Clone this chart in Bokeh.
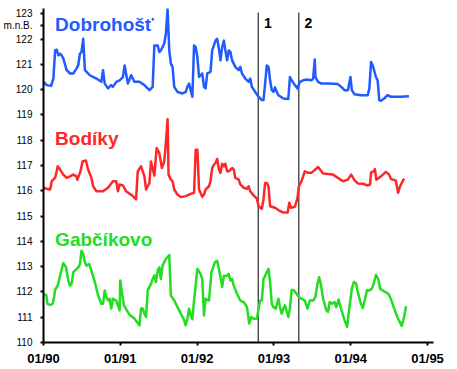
from bokeh.plotting import figure
from bokeh.models import Range1d, FixedTicker
from bokeh.core.properties import value
from bokeh.embed import file_html
from bokeh.resources import INLINE

# ---- data (decimal year, water level in m n.B.) ----
dobrohost_year = [1990.000, 1990.043, 1990.099, 1990.129, 1990.151, 1990.172, 1990.194, 1990.216, 1990.236, 1990.258,
                  1990.301, 1990.345, 1990.388, 1990.430, 1990.452, 1990.474, 1990.495, 1990.517, 1990.539, 1990.603,
                  1990.689, 1990.753, 1990.775, 1990.797, 1990.840, 1990.882, 1990.904, 1990.947, 1990.991, 1991.034,
                  1991.056, 1991.098, 1991.141, 1991.185, 1991.249, 1991.314, 1991.379, 1991.421, 1991.443, 1991.486,
                  1991.508, 1991.528, 1991.572, 1991.593, 1991.615, 1991.637, 1991.658, 1991.680, 1991.702, 1991.744,
                  1991.809, 1991.851, 1991.873, 1991.895, 1991.916, 1991.938, 1991.960, 1991.981, 1992.003, 1992.025,
                  1992.045, 1992.067, 1992.089, 1992.110, 1992.132, 1992.174, 1992.196, 1992.239, 1992.261, 1992.283,
                  1992.304, 1992.326, 1992.348, 1992.368, 1992.390, 1992.412, 1992.433, 1992.455, 1992.497, 1992.541,
                  1992.562, 1992.584, 1992.627, 1992.671, 1992.691, 1992.713, 1992.756, 1992.800, 1992.842, 1992.864,
                  1992.885, 1992.907, 1992.929, 1992.950, 1992.972, 1992.994, 1993.014, 1993.036, 1993.058, 1993.123,
                  1993.187, 1993.208, 1993.230, 1993.273, 1993.307, 1993.337, 1993.381, 1993.424, 1993.488, 1993.510,
                  1993.531, 1993.540, 1993.575, 1993.618, 1993.704, 1993.833, 1993.876, 1993.919, 1993.963, 1993.996,
                  1994.014, 1994.048, 1994.134, 1994.221, 1994.242, 1994.264, 1994.286, 1994.328, 1994.350, 1994.371,
                  1994.393, 1994.435, 1994.479, 1994.522, 1994.651, 1994.758]
dobrohost_level = [120.31, 120.18, 120.15, 120.45, 121.55, 121.58, 121.36, 121.42, 121.36, 121.24,
                   120.77, 120.64, 120.64, 120.83, 120.96, 121.42, 121.49, 122.01, 120.77, 120.57,
                   120.44, 120.31, 120.77, 120.24, 120.05, 120.18, 120.11, 120.31, 120.37, 120.50,
                   120.96, 120.24, 120.57, 120.31, 120.31, 120.18, 119.98, 120.11, 121.75, 121.75,
                   121.49, 121.55, 121.82, 122.21, 123.19, 121.55, 121.03, 120.90, 120.11, 119.91,
                   119.85, 119.91, 120.11, 120.24, 119.98, 119.72, 121.75, 121.68, 121.29, 120.50,
                   120.57, 120.64, 120.11, 120.05, 120.64, 120.70, 121.55, 121.94, 122.01, 121.62,
                   121.16, 121.68, 121.94, 121.55, 121.16, 121.55, 121.49, 121.16, 120.90, 120.77,
                   120.90, 120.64, 120.44, 120.31, 120.44, 120.11, 119.91, 119.72, 119.59, 119.59,
                   120.24, 120.96, 120.90, 120.37, 119.98, 119.91, 120.09, 119.91, 119.78, 119.65,
                   119.63, 120.50, 120.37, 120.18, 120.05, 120.31, 120.37, 120.40, 120.37, 120.44,
                   121.19, 120.50, 120.31, 120.24, 120.24, 120.22, 120.11, 119.98, 119.98, 120.50,
                   119.98, 119.82, 119.78, 119.78, 120.05, 121.09, 120.96, 120.50, 120.37, 119.59,
                   119.56, 119.65, 119.78, 119.72, 119.72, 119.74]

bodiky_year = [1990.000, 1990.043, 1990.087, 1990.107, 1990.151, 1990.172, 1990.185, 1990.216, 1990.258, 1990.301,
               1990.345, 1990.388, 1990.430, 1990.439, 1990.465, 1990.482, 1990.508, 1990.552, 1990.581, 1990.624,
               1990.646, 1990.689, 1990.775, 1990.840, 1990.904, 1990.947, 1990.969, 1990.991, 1991.034, 1991.076,
               1991.163, 1991.205, 1991.227, 1991.270, 1991.314, 1991.335, 1991.379, 1991.399, 1991.443, 1991.473,
               1991.508, 1991.541, 1991.572, 1991.593, 1991.615, 1991.628, 1991.658, 1991.680, 1991.702, 1991.744,
               1991.787, 1991.851, 1991.916, 1991.960, 1991.981, 1992.003, 1992.025, 1992.067, 1992.089, 1992.110,
               1992.154, 1992.174, 1992.196, 1992.218, 1992.239, 1992.261, 1992.283, 1992.304, 1992.326, 1992.348,
               1992.368, 1992.390, 1992.412, 1992.455, 1992.477, 1992.497, 1992.541, 1992.562, 1992.606, 1992.649,
               1992.671, 1992.691, 1992.735, 1992.778, 1992.800, 1992.842, 1992.864, 1992.885, 1992.907, 1992.929,
               1992.950, 1992.972, 1993.014, 1993.058, 1993.123, 1993.178, 1993.200, 1993.221, 1993.273, 1993.307,
               1993.324, 1993.359, 1993.402, 1993.446, 1993.488, 1993.510, 1993.575, 1993.640, 1993.769, 1993.833,
               1993.898, 1993.963, 1994.005, 1994.048, 1994.092, 1994.156, 1994.221, 1994.251, 1994.264, 1994.298,
               1994.315, 1994.332, 1994.393, 1994.457, 1994.500, 1994.522, 1994.587, 1994.616, 1994.642, 1994.694]
bodiky_level = [116.12, 116.08, 116.05, 116.38, 116.51, 116.77, 116.97, 116.84, 116.64, 116.51,
                116.57, 116.64, 116.57, 116.44, 116.64, 116.77, 117.16, 117.20, 116.84, 116.51,
                116.18, 115.98, 115.98, 116.12, 116.38, 116.38, 115.98, 116.25, 116.21, 115.98,
                115.79, 115.66, 116.77, 116.97, 116.57, 116.05, 116.31, 117.16, 116.60, 117.69,
                117.49, 116.90, 117.16, 117.89, 118.83, 116.64, 116.44, 116.38, 116.05, 115.85,
                115.75, 115.79, 115.88, 115.92, 117.62, 117.62, 116.05, 115.76, 115.85, 116.05,
                116.18, 116.38, 116.90, 117.03, 117.10, 117.26, 116.84, 116.71, 117.07, 116.97,
                117.07, 116.77, 116.77, 116.90, 116.84, 116.51, 116.44, 116.25, 116.12, 116.08,
                116.18, 115.98, 115.82, 115.69, 115.39, 115.29, 115.66, 116.31, 116.31, 116.18,
                115.39, 115.37, 115.33, 115.24, 115.14, 115.14, 115.53, 115.33, 115.37, 115.72,
                116.18, 116.38, 116.77, 116.71, 116.71, 116.77, 116.94, 116.68, 116.64, 116.51,
                116.38, 116.44, 116.64, 116.42, 116.29, 116.28, 116.21, 116.25, 116.73, 116.77,
                116.86, 116.44, 116.57, 116.75, 116.64, 116.47, 116.40, 115.92, 116.18, 116.48]

gabcikovo_year = [1990.009, 1990.035, 1990.052, 1990.087, 1990.120, 1990.138, 1990.151, 1990.185, 1990.216, 1990.258,
                  1990.293, 1990.323, 1990.345, 1990.366, 1990.388, 1990.410, 1990.452, 1990.474, 1990.495, 1990.517,
                  1990.539, 1990.559, 1990.594, 1990.624, 1990.668, 1990.711, 1990.753, 1990.775, 1990.797, 1990.818,
                  1990.840, 1990.862, 1990.882, 1990.904, 1990.947, 1990.969, 1990.991, 1990.999, 1991.021, 1991.047,
                  1991.085, 1991.120, 1991.185, 1991.249, 1991.270, 1991.292, 1991.314, 1991.335, 1991.357, 1991.399,
                  1991.421, 1991.443, 1991.464, 1991.486, 1991.508, 1991.528, 1991.550, 1991.593, 1991.637, 1991.658,
                  1991.702, 1991.766, 1991.831, 1991.851, 1991.873, 1991.895, 1991.916, 1991.938, 1991.960, 1992.003,
                  1992.045, 1992.067, 1992.089, 1992.110, 1992.154, 1992.187, 1992.231, 1992.261, 1992.283, 1992.304,
                  1992.326, 1992.348, 1992.390, 1992.412, 1992.433, 1992.455, 1992.477, 1992.519, 1992.562, 1992.606,
                  1992.649, 1992.678, 1992.704, 1992.735, 1992.778, 1992.800, 1992.821, 1992.842, 1992.864, 1992.907,
                  1992.929, 1992.950, 1992.972, 1992.994, 1993.023, 1993.058, 1993.079, 1993.101, 1993.123, 1993.143,
                  1993.187, 1993.208, 1993.230, 1993.256, 1993.295, 1993.324, 1993.359, 1993.402, 1993.437, 1993.466,
                  1993.510, 1993.540, 1993.566, 1993.588, 1993.609, 1993.640, 1993.682, 1993.704, 1993.725, 1993.756,
                  1993.789, 1993.811, 1993.841, 1993.867, 1993.919, 1993.953, 1993.983, 1994.014, 1994.040, 1994.070,
                  1994.092, 1994.125, 1994.156, 1994.186, 1994.212, 1994.242, 1994.273, 1994.298, 1994.328, 1994.358,
                  1994.384, 1994.435, 1994.487, 1994.522, 1994.565, 1994.616, 1994.664, 1994.694, 1994.720]
gabcikovo_level = [111.89, 111.89, 111.53, 111.49, 111.53, 111.80, 112.08, 112.25, 112.64, 113.14,
                   112.97, 112.45, 112.25, 112.32, 112.78, 112.84, 112.97, 113.10, 113.63, 113.50,
                   113.17, 113.04, 113.10, 112.84, 112.39, 111.86, 111.53, 111.53, 112.06, 111.80,
                   111.66, 111.73, 111.34, 111.73, 111.66, 111.47, 111.27, 112.45, 111.99, 111.47,
                   111.27, 111.10, 110.94, 110.68, 111.34, 111.34, 111.14, 111.01, 112.06, 112.32,
                   112.51, 112.65, 112.39, 112.84, 112.97, 112.51, 113.04, 113.30, 113.46, 111.86,
                   111.66, 111.27, 110.88, 110.68, 110.94, 111.34, 111.07, 110.92, 111.66, 112.91,
                   112.71, 112.51, 111.07, 111.73, 111.66, 112.78, 113.17, 113.23, 112.91, 112.58,
                   112.19, 112.64, 112.64, 112.71, 112.45, 112.51, 112.25, 111.93, 111.66, 111.60,
                   111.40, 110.75, 111.01, 110.94, 110.94, 111.34, 111.66, 111.66, 112.51, 112.78,
                   112.91, 112.39, 111.53, 111.40, 111.34, 111.73, 111.40, 111.14, 111.34, 111.47,
                   111.01, 111.34, 112.08, 112.08, 111.93, 111.80, 111.73, 111.66, 111.34, 111.66,
                   111.66, 111.80, 112.32, 112.58, 112.32, 111.73, 111.27, 111.21, 111.60, 111.53,
                   111.60, 111.40, 111.70, 111.40, 110.88, 110.62, 111.40, 112.12, 112.39, 112.32,
                   111.99, 111.60, 111.36, 111.73, 112.08, 112.06, 112.12, 112.32, 112.67, 112.51,
                   112.12, 112.02, 111.93, 111.73, 111.34, 110.94, 110.66, 111.01, 111.43]

station_names = ["Dobrohošť", "Bodíky", "Gabčíkovo"]
station_colors = ["#1f5bff", "#ff2626", "#22dd22"]

x_ticks = [1990, 1991, 1992, 1993, 1994, 1995]
x_tick_labels = ["01/90", "01/91", "01/92", "01/93", "01/94", "01/95"]
y_ticks = [110, 111, 112, 113, 114, 115, 116, 117, 118, 119, 120, 121, 122, 123]
unit_label = "m.n.B."
unit_label_level = 122.55

event_year = [1992.795, 1993.324]
event_labels = ["1", "2"]

FONT = "Liberation Sans"

p = figure(width=456, height=368, output_backend="svg", toolbar_location=None,
           x_range=Range1d(1990, 1995.077), y_range=Range1d(110, 123.21),
           min_border_left=40, min_border_right=23, min_border_top=8, min_border_bottom=24,
           background_fill_color="white", border_fill_color="white")
p.outline_line_color = None
p.grid.visible = False

# axes
p.xaxis.ticker = FixedTicker(ticks=x_ticks)
p.xaxis.major_label_overrides = dict(zip(x_ticks, x_tick_labels))
p.yaxis.ticker = FixedTicker(ticks=y_ticks + [unit_label_level])
overrides = {t: str(t) for t in y_ticks}
overrides[unit_label_level] = unit_label
p.yaxis.major_label_overrides = overrides
for ax in (p.xaxis, p.yaxis):
    ax.axis_line_width = 2
    ax.axis_line_color = "black"
    ax.major_tick_line_width = 2
    ax.major_tick_line_color = "black"
    ax.major_tick_in = 0
    ax.minor_tick_in = 0
    ax.minor_tick_out = 0
    ax.major_label_text_font = FONT
    ax.major_label_text_color = "black"
p.xaxis.major_tick_out = 3
p.xaxis.major_label_standoff = 5
p.xaxis.major_label_text_font_size = "13px"
p.xaxis.major_label_text_font_style = "bold"
p.yaxis.major_tick_out = 3
p.yaxis.major_label_standoff = 8
p.yaxis.major_label_text_font_size = "10px"

# event lines
p.segment(x0=event_year, y0=[110, 110], x1=event_year, y1=[123.05, 123.05],
          line_color="black", line_width=1)
p.text(x=[event_year[0] + 0.125, event_year[1] + 0.125], y=[122.62, 122.62], text=event_labels,
       text_font=value(FONT), text_font_style="bold", text_font_size="14px",
       text_align="center", text_baseline="alphabetic", text_color="black")

# series
series = [(dobrohost_year, dobrohost_level), (bodiky_year, bodiky_level), (gabcikovo_year, gabcikovo_level)]
label_y = [122.57, 118.05, 114.09]
for (xs, ys), name, col, ly in zip(series, station_names, station_colors, label_y):
    p.line(xs, ys, line_color=col, line_width=2.5, line_join="round")
    p.text(x=[1990.151], y=[ly], text=[name], text_font=value(FONT), text_font_style="bold",
           text_font_size="19px", text_color=col, text_align="left", text_baseline="alphabetic")

open("out.html", "w").write(file_html(p, INLINE))
